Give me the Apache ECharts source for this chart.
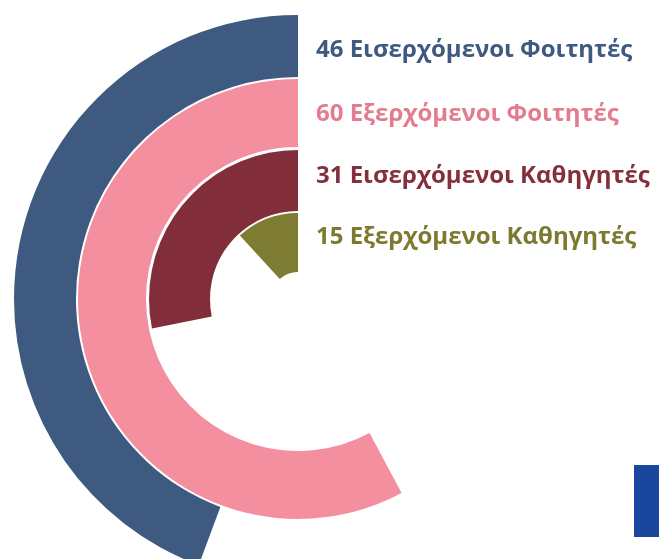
<!DOCTYPE html>
<html>
<head>
<meta charset="utf-8">
<script src="https://cdn.jsdelivr.net/npm/echarts@6/dist/echarts.min.js"></script>
<style>
    html, body { margin: 0; padding: 0; background: #fff; }
    #chart { width: 659px; height: 559px; }
</style>
</head>
<body>
<div id="chart"></div>
<script>
// data
const names = ['Εισερχόμενοι Φοιτητές', 'Εξερχόμενοι Φοιτητές', 'Εισερχόμενοι Καθηγητές', 'Εξερχόμενοι Καθηγητές']
const values = [46, 60, 31, 15]

// ring styling (outer to inner)
const ringColors = ['#3E5A80', '#F48F9F', '#822E3A', '#7E7B32']
const textColors = ['#3E5A80', '#E27C8E', '#84303C', '#7B7A30']
const ringRadius = [[222, 284], [152, 220], [88, 149], [27, 86]]
const ringMax = [103.8, 103.8, 110, 127]
const center = [298, 299]
const labelY = [50, 114, 176, 237]

const polar = []
const angleAxis = []
const radiusAxis = []
const series = []
values.forEach((v, i) => {
    polar.push({ center: center, radius: ringRadius[i] })
    angleAxis.push({
        polarIndex: i,
        type: 'value',
        min: 0,
        max: ringMax[i],
        startAngle: 90,
        clockwise: false,
        show: false
    })
    radiusAxis.push({
        polarIndex: i,
        type: 'category',
        data: [names[i]],
        show: false
    })
    series.push({
        type: 'bar',
        coordinateSystem: 'polar',
        polarIndex: i,
        barWidth: '100%',
        data: [v],
        itemStyle: { color: ringColors[i] },
        silent: true
    })
})

const graphic = values.map((v, i) => ({
    type: 'text',
    x: 316,
    y: labelY[i],
    style: {
        text: v + ' ' + names[i],
        fill: textColors[i],
        font: 'bold 24px "Open Sans", "Noto Sans", sans-serif',
        verticalAlign: 'middle'
    }
}))
graphic.push({
    type: 'rect',
    shape: { x: 634, y: 465, width: 25, height: 72 },
    style: { fill: '#1B469E' }
})

const myChart = echarts.init(document.getElementById('chart'))
myChart.setOption({
    animation: false,
    polar: polar,
    angleAxis: angleAxis,
    radiusAxis: radiusAxis,
    series: series,
    graphic: graphic
})
</script>
</body>
</html>
